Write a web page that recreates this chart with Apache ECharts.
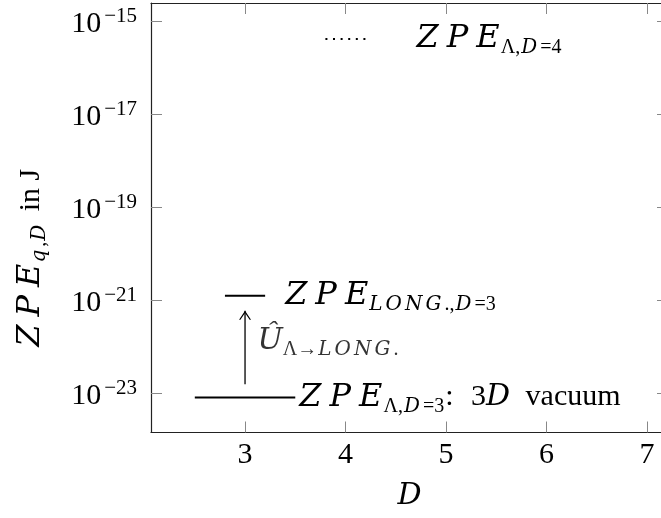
<!DOCTYPE html>
<html><head><meta charset="utf-8">
<script src="https://cdn.jsdelivr.net/npm/echarts@6/dist/echarts.min.js"></script>
<style>html,body{margin:0;padding:0;background:#fff}#c{width:661px;height:518px}</style>
</head><body><div id="c"></div>
<script>
// ---- data ----
const xTicks = [3, 4, 5, 6, 7];
const yTicks = [1e-23, 1e-21, 1e-19, 1e-17, 1e-15];
const xRange = [2.064, 7.21];
const yRange = [1.445e-24, 2.49e-15];
const vacuumD3X = [2.5, 3.5];
const vacuumD3Y = [8.2e-24, 8.2e-24];
const longD3X = [2.8, 3.2];
const longD3Y = [1.26e-21, 1.26e-21];
const vacuumD4X = [3.8, 4.2];
const vacuumD4Y = [4.2e-16, 4.2e-16];
const arrowX = [3, 3];
const arrowY = [1.58e-23, 6.0e-22];
const arrowLabelX = [3];
const arrowLabelY = [1.4e-22];

// ---- styles ----
const SERIF = "'Liberation Serif', serif";
const MI = "'DejaVu Serif', serif";
function st(o) { return Object.assign({verticalAlign: 'top', color: '#000'}, o); }
const rich = {
  I:  st({fontFamily: MI, fontStyle: 'italic', fontSize: 32, lineHeight: 32, padding: [0, 8, 0, 0]}),
  E:  st({fontFamily: MI, fontStyle: 'italic', fontSize: 32, lineHeight: 32, padding: [0, 1, 0, 0]}),
  Id: st({fontFamily: MI, fontStyle: 'italic', fontSize: 30, lineHeight: 30, padding: [1, 0, 0, 0]}),
  r:  st({fontFamily: SERIF, fontSize: 30, lineHeight: 30, padding: [1, 0, 0, 0]}),
  c:  st({fontFamily: SERIF, fontSize: 30, lineHeight: 30, padding: [1, 10, 0, 0]}),
  w:  st({fontFamily: SERIF, fontSize: 30, lineHeight: 30, padding: [1, 0, 0, 8]}),
  wn: st({fontFamily: SERIF, fontSize: 30, lineHeight: 30, padding: [1, 0, 0, 3]}),
  J:  st({fontFamily: MI, fontStyle: 'italic', fontSize: 20, lineHeight: 20, padding: [15, 3, 0, 0]}),
  su: st({fontFamily: SERIF, fontSize: 20, lineHeight: 20, padding: [15, 1, 0, 0]}),
  b:  st({fontFamily: SERIF, fontSize: 30, lineHeight: 30, padding: [3, 0, 0, 0]}),
  p:  st({fontFamily: SERIF, fontSize: 21, lineHeight: 21, padding: [0, 0, 0, 3]})
};
const ZPE = '{I|Z}{I|P}{E|E}';

function pts(xs, ys) { return xs.map((x, k) => [x, ys[k]]); }
const AX = '#222', TK = '#888';

function xAxisDef(pos, showLabel) {
  return {
    type: 'value', position: pos, min: xRange[0], max: xRange[1],
    axisLine: {show: true, onZero: false, lineStyle: {color: AX, width: 1.2}},
    axisTick: {show: true, inside: true, length: 11, customValues: xTicks, lineStyle: {color: TK, width: 1}},
    axisLabel: {show: showLabel, customValues: xTicks, margin: 8, fontFamily: SERIF, fontSize: 30, color: '#000'},
    splitLine: {show: false},
    name: showLabel ? '{Id|D}' : '', nameLocation: 'middle', nameGap: 48,
    nameTextStyle: {rich: rich}
  };
}
function yAxisDef(pos, showLabel) {
  return {
    type: 'log', logBase: 10, position: pos, min: yRange[0], max: yRange[1],
    axisLine: {show: true, onZero: false, lineStyle: {color: AX, width: 1.2}},
    axisTick: {show: true, inside: true, length: 11, customValues: yTicks, lineStyle: {color: TK, width: 1}},
    minorTick: {show: false},
    axisLabel: {
      show: showLabel, customValues: yTicks, margin: 14,
      formatter: function (v) {
        const e = Math.round(Math.log10(v));
        return '{b|10}{p|\u2212' + (-e) + '}';
      },
      rich: rich
    },
    splitLine: {show: false},
    name: showLabel ? ZPE + '{J|q}{su|,}{J|D}{wn| in J}' : '',
    nameLocation: 'middle', nameRotate: 90, nameGap: 104,
    nameTextStyle: {rich: rich, padding: [0, 80, 0, 0]}
  };
}

const chart = echarts.init(document.getElementById('c'), null, {renderer: 'canvas'});
chart.setOption({
  animation: false,
  backgroundColor: '#fff',
  grid: {left: 151, top: 3, right: -7, bottom: 85.5, containLabel: false, outerBoundsMode: 'none'},
  xAxis: [xAxisDef('bottom', true), xAxisDef('top', false)],
  yAxis: [yAxisDef('left', true), yAxisDef('right', false)],
  series: [
    {
      type: 'line', data: pts(vacuumD3X, vacuumD3Y), symbol: 'none',
      lineStyle: {color: '#000', width: 2},
      endLabel: {show: true, distance: 4,
        formatter: ZPE + '{su|\u039B,}{J|D}{su|=3}{c|: }{r|3}{Id|D}{w| vacuum}', rich: rich}
    },
    {
      type: 'line', data: pts(longD3X, longD3Y), symbol: 'none',
      lineStyle: {color: '#000', width: 2},
      endLabel: {show: true, distance: 20,
        formatter: ZPE + '{J|L}{J|O}{J|N}{J|G}{su|.,}{J|D}{su|=3}', rich: rich}
    },
    {
      type: 'line', data: pts(vacuumD4X, vacuumD4Y), symbol: 'none',
      lineStyle: {color: '#000', width: 2, type: [2, 5.6]},
      endLabel: {show: true, distance: 51,
        formatter: ZPE + '{su|\u039B,}{J|D}{su|=4}', rich: rich}
    },
    {
      type: 'line',
      data: pts(arrowX, arrowY).map((p, k) => k === 0 ? {value: p, symbol: 'none'} :
        {value: p, symbol: 'path://M0,10 L6,0 L12,10 L10.6,10 L6,2.4 L1.4,10 Z', symbolSize: [12, 9], symbolOffset: [0, 4.5]}),
      showSymbol: true, lineStyle: {color: '#000', width: 1.3},
      itemStyle: {color: '#000'}
    },
    {
      type: 'scatter', data: pts(arrowLabelX, arrowLabelY), symbolSize: 1,
      itemStyle: {color: 'rgba(0,0,0,0)'},
      label: {show: true, position: 'right', distance: 12,
        formatter: '{Id|\u00DB}{su|\u039B\u2192}{J|L}{J|O}{J|N}{J|G}{su|.}', rich: rich}
    }
  ]
});
</script>
</body></html>
